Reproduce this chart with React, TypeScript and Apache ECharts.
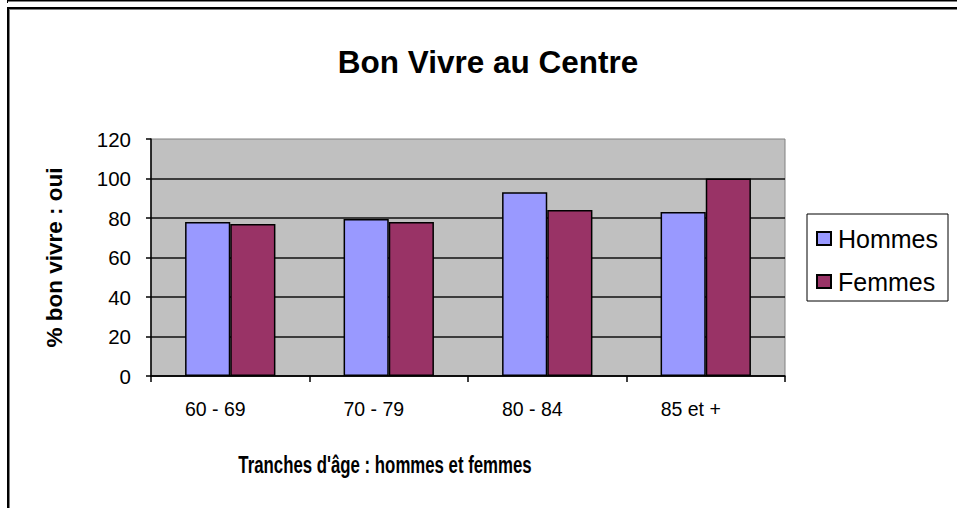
import React, { useEffect, useRef } from "react";
import * as echarts from "echarts";

const categories = ["60 - 69", "70 - 79", "80 - 84", "85 et +"];
const hommes = [78, 79.5, 93, 83];
const femmes = [77, 78, 84, 100];
const seriesNames = ["Hommes", "Femmes"];
const yTicks = { min: 0, max: 120, interval: 20 };
const chartTitle = "Bon Vivre au Centre";
const xAxisTitle = "Tranches d'âge : hommes et femmes";
const yAxisTitle = "% bon vivre : oui";

const FONT = "'Liberation Sans', Arial, sans-serif";

export default function App() {
  const ref = useRef<HTMLDivElement>(null);
  useEffect(() => {
    if (!ref.current) return;
    const chart = echarts.init(ref.current, null, { renderer: "svg" });
    const nLines = (yTicks.max - yTicks.min) / yTicks.interval + 1;
    const splitColors = Array.from({ length: nLines }, (_, i) =>
      i === nLines - 1 ? "rgba(0,0,0,0)" : "#111"
    );
    chart.setOption({
      animation: false,
      backgroundColor: "#ffffff",
      textStyle: { fontFamily: FONT },
      grid: {
        left: 151,
        top: 139,
        width: 634,
        height: 237,
        show: true,
        backgroundColor: "#C0C0C0",
        borderColor: "#808080",
        borderWidth: 1,
      },
      legend: {
        orient: "vertical",
        left: 807,
        top: 214,
        data: seriesNames,
        backgroundColor: "#ffffff",
        borderColor: "#000",
        borderWidth: 1,
        borderRadius: 0,
        padding: [12, 10, 7, 9],
        itemGap: 18,
        itemWidth: 14,
        itemHeight: 13,
        icon: "rect",
        textStyle: { fontFamily: FONT, fontSize: 25, color: "#000", padding: [0, 0, 0, 2] },
      },
      xAxis: {
        type: "category",
        data: categories,
        boundaryGap: true,
        axisLine: { show: true, lineStyle: { color: "#000", width: 1.5 } },
        axisTick: { show: true, length: 6, interval: 0, lineStyle: { color: "#000", width: 1.5 } },
        axisLabel: {
          interval: 0,
          margin: 23,
          fontSize: 19.5,
          fontFamily: FONT,
          color: "#000",
          padding: [0, 30, 0, 0],
        },
        splitLine: { show: false },
      },
      yAxis: {
        type: "value",
        min: yTicks.min,
        max: yTicks.max,
        interval: yTicks.interval,
        name: yAxisTitle,
        nameLocation: "middle",
        nameRotate: 90,
        nameGap: 85,
        nameTextStyle: { fontFamily: FONT, fontSize: 22.5, fontWeight: "bold", color: "#000" },
        axisLine: { show: true, lineStyle: { color: "#000", width: 1.5 } },
        axisTick: { show: true, length: 5, lineStyle: { color: "#000", width: 1.5 } },
        axisLabel: { margin: 20, fontSize: 20.5, fontFamily: FONT, color: "#000" },
        splitLine: { show: true, lineStyle: { color: splitColors, width: 1.5 } },
      },
      series: [
        {
          name: seriesNames[0],
          type: "bar",
          data: hommes,
          barGap: "0%",
          barCategoryGap: "43%",
          itemStyle: { color: "#9999FF", borderColor: "#000", borderWidth: 1.5 },
        },
        {
          name: seriesNames[1],
          type: "bar",
          data: femmes,
          barGap: "0%",
          barCategoryGap: "43%",
          itemStyle: { color: "#993366", borderColor: "#000", borderWidth: 1.5 },
        },
      ],
      graphic: [
        { type: "line", shape: { x1: 7, y1: 0.5, x2: 957, y2: 0.5 }, style: { stroke: "#000", lineWidth: 1 } },
        { type: "line", shape: { x1: 8, y1: 1.5, x2: 957, y2: 1.5 }, style: { stroke: "#808080", lineWidth: 1 } },
        { type: "line", shape: { x1: 7.5, y1: 0, x2: 7.5, y2: 3 }, style: { stroke: "#000", lineWidth: 1 } },
        { type: "line", shape: { x1: 7, y1: 8, x2: 957, y2: 8 }, style: { stroke: "#000", lineWidth: 2 } },
        { type: "line", shape: { x1: 9, y1: 9.5, x2: 957, y2: 9.5 }, style: { stroke: "#808080", lineWidth: 1 } },
        { type: "line", shape: { x1: 8, y1: 7, x2: 8, y2: 508 }, style: { stroke: "#000", lineWidth: 2 } },
        { type: "line", shape: { x1: 9.5, y1: 9, x2: 9.5, y2: 508 }, style: { stroke: "#808080", lineWidth: 1 } },
        {
          type: "text",
          x: 488,
          y: 62,
          style: {
            text: chartTitle,
            align: "center",
            verticalAlign: "middle",
            fontFamily: FONT,
            fontSize: 31.5,
            fontWeight: "bold",
            fill: "#000",
          },
        },
        {
          type: "text",
          x: 385,
          y: 464,
          scaleX: 0.7,
          style: {
            text: xAxisTitle,
            align: "center",
            verticalAlign: "middle",
            fontFamily: FONT,
            fontSize: 24,
            fontWeight: "bold",
            fill: "#000",
          },
        },
      ],
    });
    return () => chart.dispose();
  }, []);
  return (
    <div
      ref={ref}
      style={{ position: "fixed", left: 0, top: 0, width: 957, height: 508, background: "#fff" }}
    />
  );
}
